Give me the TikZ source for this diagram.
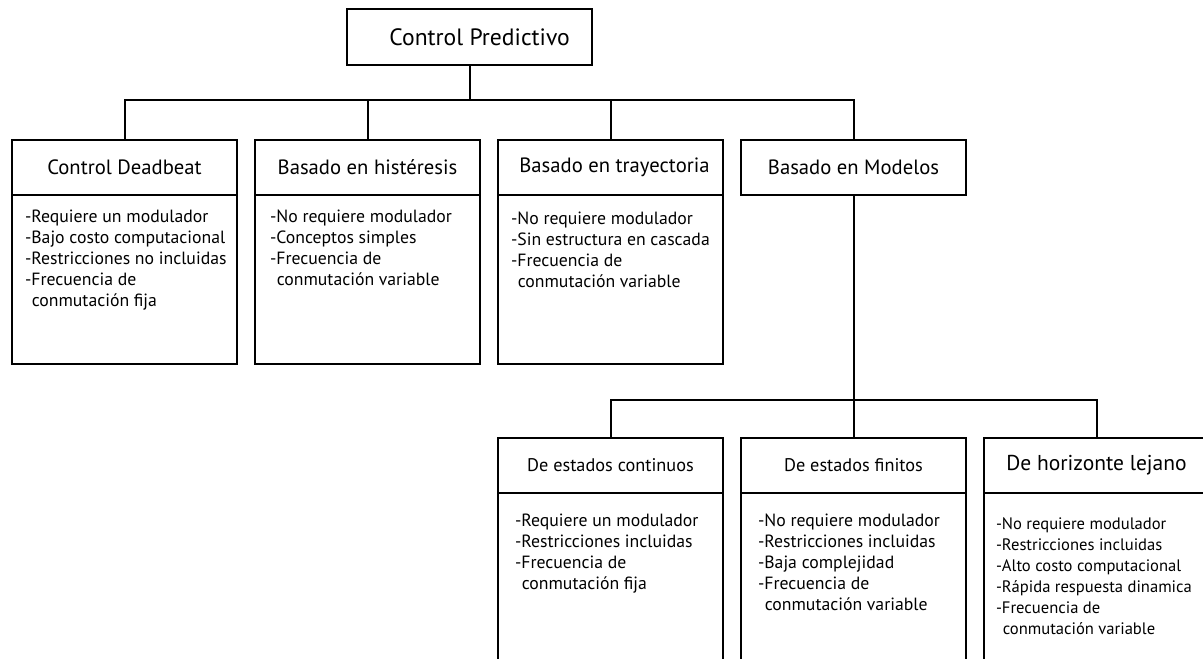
\documentclass[tikz,border=0pt]{standalone}
\usepackage{fontspec}
\setmainfont{PT Sans}
\usetikzlibrary{positioning}
\tikzset{titlebox/.style={draw, minimum width=61.25mm, minimum height=14mm, font=\fontsize{16.8}{19}\selectfont}}
\tikzset{header/.style={draw, minimum width=56.25mm, minimum height=13.75mm, font=\fontsize{14.7}{17}\selectfont}}
\tikzset{subheader/.style={header, font=\fontsize{13}{15}\selectfont}}
\tikzset{body/.style={draw, minimum width=56.25mm, minimum height=42.25mm, anchor=north}}
\tikzset{longbody/.style={body, minimum height=50mm}}
\tikzset{items/.style={align=left, inner sep=0pt, font=\fontsize{12.6}{14.9}\selectfont}}
\newcommand{\sangria}{\hspace*{1.7mm}}

\begin{document}
\begin{tikzpicture}[line width=0.5mm, outer sep=0pt, node distance=4.5mm]
\useasboundingbox (0,0) rectangle (300.75mm,-164.5mm);
\clip (0,0) rectangle (300.75mm,-164.5mm);

\node[titlebox, anchor=north] (predictivo) at (117.4mm,-2.25mm) {\hspace*{5mm}Control Predictivo};
\coordinate[below=8.75mm of predictivo] (bus1);

\node[header, anchor=north west] (deadbeat) at (3mm,-35mm) {Control Deadbeat};
\node[header, right=of deadbeat] (histeresis) {Basado en histéresis};
\node[header, right=of histeresis] (trayectoria) {\hspace*{2mm}Basado en trayectoria};
\node[header, right=of trayectoria] (modelos) {Basado en Modelos};

\node[body] (deadbeat_body) at (deadbeat.south) {};
\node[body] (histeresis_body) at (histeresis.south) {};
\node[body] (trayectoria_body) at (trayectoria.south) {};

\node[items, below right=3.75mm and 3.25mm of deadbeat_body.north west] (deadbeat_list) {-Requiere un modulador\\-Bajo costo computacional\\-Restricciones no incluidas\\-Frecuencia de\\\sangria conmutación fija};
\node[items, below right=3.75mm and 3.75mm of histeresis_body.north west] (histeresis_list) {-No requiere modulador\\-Conceptos simples\\-Frecuencia de\\\sangria conmutación variable};
\node[items, below right=4.25mm and 3.25mm of trayectoria_body.north west] (trayectoria_list) {-No requiere modulador\\-Sin estructura en cascada\\-Frecuencia de\\\sangria conmutación variable};

\coordinate[below=51.25mm of modelos] (bus2);
\node[subheader, below=60.75mm of modelos] (finitos) {De estados finitos};
\node[subheader, left=of finitos] (continuos) {De estados continuos};
\node[header, right=of finitos, font=\fontsize{15.3}{18}\selectfont] (lejano) {De horizonte lejano};

\node[longbody] (continuos_body) at (continuos.south) {};
\node[longbody] (finitos_body) at (finitos.south) {};
\node[longbody] (lejano_body) at (lejano.south) {};

\node[items, below right=5.25mm and 4.25mm of continuos_body.north west] (continuos_list) {-Requiere un modulador\\-Restricciones incluidas\\-Frecuencia de\\\sangria conmutación fija};
\node[items, below right=5.25mm and 4.25mm of finitos_body.north west] (finitos_list) {-No requiere modulador\\-Restricciones incluidas\\-Baja complejidad\\-Frecuencia de\\\sangria conmutación variable};
\node[items, below right=6.25mm and 3mm of lejano_body.north west, font=\fontsize{11.8}{14.9}\selectfont] (lejano_list) {-No requiere modulador\\-Restricciones incluidas\\-Alto costo computacional\\-Rápida respuesta dinamica\\-Frecuencia de\\\sangria conmutación variable};

\draw (predictivo) -- (bus1);
\draw (deadbeat) |- (bus1) -| (modelos);
\draw (histeresis) -- (histeresis |- bus1);
\draw (trayectoria) -- (trayectoria |- bus1);
\draw (modelos) -- (finitos);
\draw (continuos) |- (bus2) -| (lejano);

\end{tikzpicture}
\end{document}
